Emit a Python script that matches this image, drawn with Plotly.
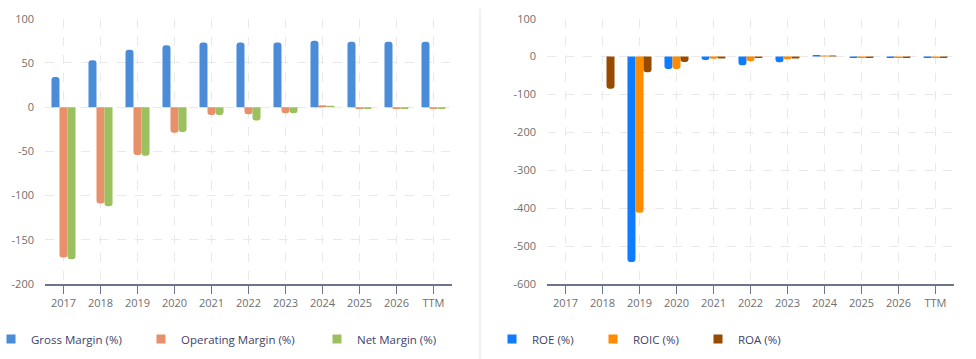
import plotly.graph_objects as go

W, H = 976, 359

years = ["2017", "2018", "2019", "2020", "2021", "2022", "2023", "2024", "2025", "2026", "TTM"]

gross_margin = [34, 53, 65, 70, 73, 73, 73, 75, 74, 74, 74]
operating_margin = [-170, -109, -54, -29, -9, -8, -7, 2, -2, -2, -2]
net_margin = [-172, -112, -55, -28, -9, -15, -7, 1.5, -2, -2, -2]

roe = [None, None, -542, -33, -9, -23, -15, 4, -4, -4, -4]
roic = [None, None, -412, -33, -6, -12, -7, 3, -4, -4, -4]
roa = [None, -85, -41, -14, -5, -4, -5, 3, -4, -4, -4]

left_ticks = [100, 50, 0, -50, -100, -150, -200]
right_ticks = [100, 0, -100, -200, -300, -400, -500, -600]

FONT = "Open Sans"
TICK_COLOR = "#6f6f6f"
LEGEND_COLOR = "#3e4268"
GRID = "#e9e9e9"
AXIS_LINE = "#6b7489"

left_series = [
    ("Gross Margin (%)", gross_margin, "#4a8cd8"),
    ("Operating Margin (%)", operating_margin, "#e8906a"),
    ("Net Margin (%)", net_margin, "#9bc15e"),
]
right_series = [
    ("ROE (%)", roe, "#0f7bff"),
    ("ROIC (%)", roic, "#ff8c00"),
    ("ROA (%)", roa, "#964b00"),
]

fig = go.Figure()

# bars
for name, vals, color in left_series:
    fig.add_trace(go.Bar(x=years, y=vals, name=name, marker=dict(color=color, cornerradius=3, line=dict(width=0)),
                         xaxis="x", yaxis="y", showlegend=False))
for name, vals, color in right_series:
    fig.add_trace(go.Bar(x=years, y=vals, name=name, marker=dict(color=color, cornerradius=3, line=dict(width=0)),
                         xaxis="x2", yaxis="y2", showlegend=False))

# legend proxies, each in its own legend box
legend_text_pos = [31, 181, 357, 532, 633, 738]  # text start (px)
legend_layouts = {}
all_series = left_series + right_series
for i, (name, vals, color) in enumerate(all_series):
    lname = "legend" if i == 0 else f"legend{i+1}"
    ax = ("x", "y") if i < 3 else ("x2", "y2")
    fig.add_trace(go.Scatter(x=[None], y=[None], mode="markers", name=name,
                             marker=dict(symbol="square", size=9, color=color),
                             xaxis=ax[0], yaxis=ax[1], showlegend=True, legend=lname))
    legend_layouts[lname] = dict(
        xref="paper", yref="paper",
        x=(legend_text_pos[i] - 40) / W, xanchor="left", y=1 - 339 / H, yanchor="middle",
        orientation="h", bgcolor="rgba(0,0,0,0)", borderwidth=0,
        font=dict(family=FONT, size=11.5, color=LEGEND_COLOR), itemwidth=30,
        itemclick=False, itemdoubleclick=False,
    )

ydom = [1 - 284 / H, 1 - 18.7 / H]

common_x = dict(type="category", showgrid=True, gridcolor=GRID, griddash="dash", gridwidth=1,
                showline=True, linecolor=AXIS_LINE, linewidth=1.5,
                ticks="outside", ticklen=8, tickcolor=AXIS_LINE, tickwidth=1.5,
                tickfont=dict(family=FONT, size=11, color=TICK_COLOR), fixedrange=True,
                categoryorder="array", categoryarray=years, automargin=False)
common_y = dict(showgrid=True, gridcolor=GRID, griddash="dash", gridwidth=1, zeroline=False,
                showline=False, ticks="", tickfont=dict(family=FONT, size=11, color=TICK_COLOR),
                ticklabelstandoff=10, fixedrange=True, automargin=False)

fig.update_layout(
    width=W, height=H, autosize=False,
    margin=dict(l=0, r=0, t=0, b=0, autoexpand=False),
    paper_bgcolor="white", plot_bgcolor="white",
    barmode="group", bargap=0.35, bargroupgap=0.0,
    font=dict(family=FONT),
    xaxis=dict(domain=[45 / W, 452 / W], anchor="y", **common_x),
    yaxis=dict(domain=ydom, anchor="x", range=[-200, 100], tickmode="array",
               tickvals=left_ticks, ticktext=[str(v) for v in left_ticks], **common_y),
    xaxis2=dict(domain=[547 / W, 954 / W], anchor="y2", **common_x),
    yaxis2=dict(domain=ydom, anchor="x2", range=[-600, 100], tickmode="array",
                tickvals=right_ticks, ticktext=[str(v) for v in right_ticks], **common_y),
    shapes=[dict(type="line", xref="paper", yref="paper", x0=480 / W, x1=480 / W,
                 y0=0, y1=1 - 9 / H, line=dict(color="#efefef", width=2))],
    **legend_layouts,
)

fig.write_html("out.html", config={"displayModeBar": False, "staticPlot": True},
               post_script="document.body.style.margin='0';")
